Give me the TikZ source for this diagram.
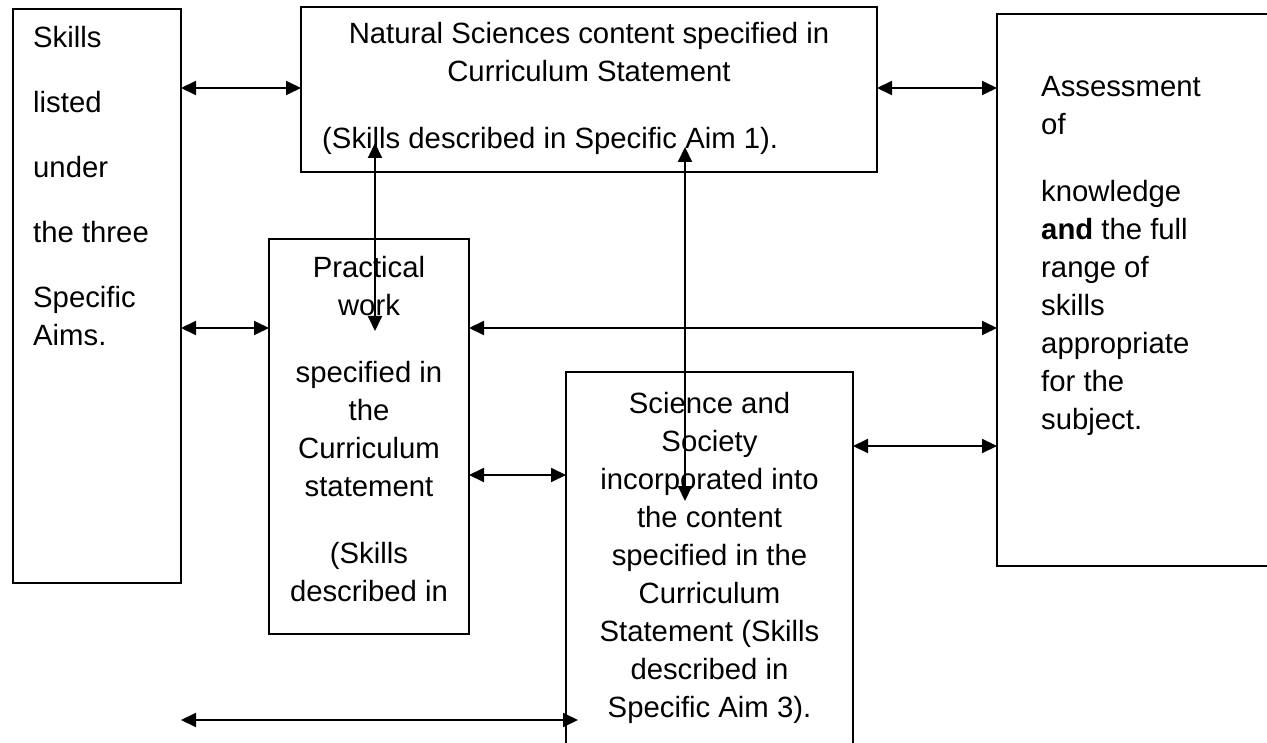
\documentclass[tikz,border=0pt]{standalone}
\usepackage{fontspec}
\setmainfont{Liberation Sans}
\usetikzlibrary{arrows.meta}
\newcommand{\dfs}{\fontsize{29.3}{38}\selectfont}
\begin{document}
\begin{tikzpicture}[x=1pt,y=-1pt,
  box/.style={draw, line width=1.8pt, rectangle, inner sep=0pt, outer sep=0pt, anchor=north west},
  txt/.style={inner sep=0pt, font=\dfs, anchor=base},
  arr/.style={line width=2pt, {Triangle[length=15pt,width=14pt]}-{Triangle[length=15pt,width=14pt]}}]
\useasboundingbox (0,0) rectangle (1267,743);
\clip (0,0) rectangle (1267,743);
% boxes
\node[box, minimum width=168pt, minimum height=574pt] (skills) at (13,9) {};
\node[box, minimum width=576pt, minimum height=165pt] (ns) at (301,7) {};
\node[box, minimum width=290pt, minimum height=552pt] (assess) at (997,14) {};
\node[box, minimum width=200pt, minimum height=395pt] (prac) at (269,239) {};
\node[box, minimum width=287pt, minimum height=390pt] (ss) at (566,372) {};
% texts
\node[txt, anchor=base west] (tskills) at (33,47.5) {\begin{tabular}[t]{@{}l@{}}Skills\\[27pt] listed\\[27pt] under\\[27pt] the three\\[27pt] Specific\\ Aims.\end{tabular}};
\node[txt] (tns) at (589,43.5) {\begin{tabular}[t]{@{}c@{}}Natural Sciences content specified in\\ Curriculum Statement\end{tabular}};
\node[txt, anchor=base west] (tns3) at (322,148.5) {(Skills described in Specific Aim 1).};
\node[txt] (tprac) at (369,277.5) {\begin{tabular}[t]{@{}c@{}}Practical\\ work\\[29pt] specified in\\ the\\ Curriculum\\ statement\\[29pt] (Skills\\ described in\end{tabular}};
\node[txt] (tss) at (709.5,413.5) {\begin{tabular}[t]{@{}c@{}}Science and\\ Society\\ incorporated into\\ the content\\ specified in the\\ Curriculum\\ Statement (Skills\\ described in\\ Specific Aim 3).\end{tabular}};
\node[txt, anchor=base west] (tas) at (1041,96.5) {\begin{tabular}[t]{@{}l@{}}Assessment\\ of\\[29pt] knowledge\\ \textbf{and} the full\\ range of\\ skills\\ appropriate\\ for the\\ subject.\end{tabular}};
% connectors
\coordinate (ya) at (0,88);
\coordinate (yb) at (0,328);
\coordinate (yc) at (0,475);
\coordinate (yd) at (0,446);
\coordinate (bl) at (181,720);
\coordinate (br) at (578,720);
\coordinate (v1t) at (375,143);
\coordinate (v1b) at (375,331);
\coordinate (v2t) at (685,147);
\coordinate (v2b) at (685,501);
\draw[arr] (skills.east |- ya) -- (ns.west |- ya);
\draw[arr] (ns.east |- ya) -- (assess.west |- ya);
\draw[arr] (skills.east |- yb) -- (prac.west |- yb);
\draw[arr] (prac.east |- yb) -- (assess.west |- yb);
\draw[arr] (prac.east |- yc) -- (ss.west |- yc);
\draw[arr] (ss.east |- yd) -- (assess.west |- yd);
\draw[arr] (bl) -- (br);
\draw[arr] (v1t) -- (v1b);
\draw[arr] (v2t) -- (v2b);
\end{tikzpicture}
\end{document}
